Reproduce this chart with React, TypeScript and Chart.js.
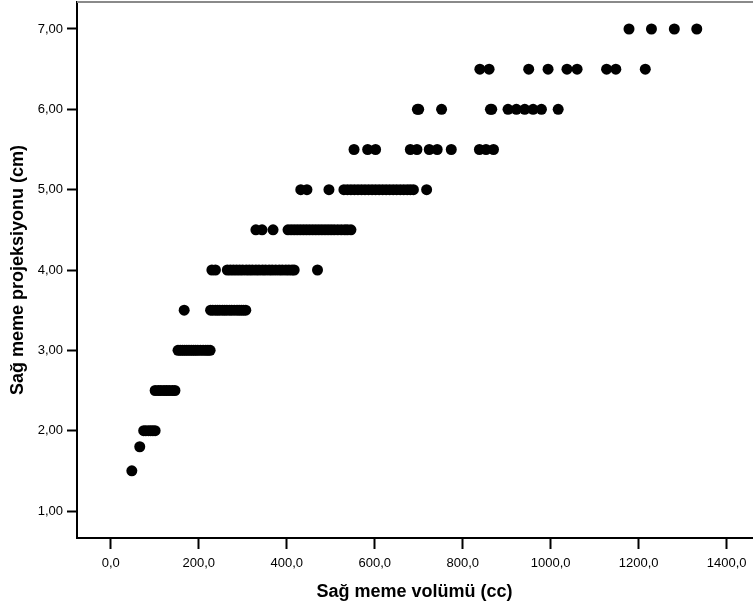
import React, { useEffect, useRef } from "react";
import { Chart, registerables } from "chart.js";

Chart.register(...registerables);

// Sağ meme volümü (cc) values grouped by Sağ meme projeksiyonu (cm)
const projectionLevels = [1.5, 1.8, 2.0, 2.5, 3.0, 3.5, 4.0, 4.5, 5.0, 5.5, 6.0, 6.5, 7.0];

const vol150 = [48];
const vol180 = [66];
const vol200 = [75, 80, 86, 91, 96, 101];
const vol250 = [101, 108, 114, 121, 127, 133, 140, 146];
const vol300 = [153, 158, 163, 168, 173, 178, 183, 188, 193, 198, 204, 210, 216, 221, 226];
const vol350 = [167, 227, 232, 238, 243, 248, 254, 259, 264, 270, 275, 281, 287, 292, 297, 302, 307];
const vol400 = [230, 238, 265, 272, 279, 286, 293, 300, 308, 315, 322, 330, 337, 345, 352, 360, 367, 375, 383, 390, 398, 405, 412, 417, 470];
const vol450 = [330, 344, 369, 403, 410, 417, 424, 431, 438, 445, 452, 459, 466, 473, 480, 487, 494, 501, 508, 516, 524, 532, 538, 546];
const vol500 = [432, 446, 496, 530, 538, 546, 554, 562, 570, 578, 586, 594, 602, 610, 618, 626, 634, 642, 650, 658, 666, 674, 681, 688, 718];
const vol550 = [553, 584, 602, 681, 696, 724, 742, 774, 838, 853, 870];
const vol600 = [697, 700, 752, 863, 866, 903, 922, 941, 960, 979, 1017];
const vol650 = [839, 860, 950, 994, 1037, 1060, 1127, 1148, 1215];
const vol700 = [1178, 1229, 1281, 1332];

const volumesByLevel = [vol150, vol180, vol200, vol250, vol300, vol350, vol400, vol450, vol500, vol550, vol600, vol650, vol700];

const xTickValues = [0, 200, 400, 600, 800, 1000, 1200, 1400];
const yTickValues = [1, 2, 3, 4, 5, 6, 7];

const xTitle = "Sağ meme volümü (cc)";
const yTitle = "Sağ meme projeksiyonu (cm)";

const FONT = "'Liberation Sans', Arial, Helvetica, sans-serif";

const topFrame = {
  id: "topFrame",
  afterDraw(chart: any) {
    const { ctx, chartArea: a } = chart;
    ctx.save();
    ctx.strokeStyle = "#8a8a8a";
    ctx.lineWidth = 2;
    ctx.beginPath();
    ctx.moveTo(a.left, a.top);
    ctx.lineTo(a.right + 2, a.top);
    ctx.stroke();
    ctx.restore();
  },
};

export default function App() {
  const ref = useRef<HTMLCanvasElement | null>(null);

  useEffect(() => {
    if (!ref.current) return;
    const points: { x: number; y: number }[] = [];
    projectionLevels.forEach((lvl, i) => {
      volumesByLevel[i].forEach((v) => points.push({ x: v, y: lvl }));
    });

    const chart = new Chart(ref.current, {
      type: "scatter",
      data: {
        datasets: [
          {
            data: points,
            pointRadius: 5.5,
            pointHoverRadius: 5.5,
            pointBackgroundColor: "#000",
            pointBorderWidth: 0,
            pointBorderColor: "#000",
          },
        ],
      },
      options: {
        animation: false,
        responsive: false,
        devicePixelRatio: 1,
        events: [],
        layout: { autoPadding: false, padding: { left: 0, right: 1, top: 2, bottom: 0 } },
        plugins: {
          legend: { display: false },
          tooltip: { enabled: false },
        },
        scales: {
          x: {
            type: "linear",
            position: "bottom",
            min: -76.6,
            max: 1457.5,
            afterBuildTicks: (s: any) => {
              s.ticks = xTickValues.map((v) => ({ value: v }));
            },
            afterFit: (s: any) => {
              s.height = 69;
              s.paddingLeft = 0;
              s.paddingRight = 0;
            },
            ticks: {
              color: "#000",
              font: { family: FONT, size: 13 },
              padding: 7,
              maxRotation: 0,
              autoSkip: false,
              callback: (v: any) => Number(v).toFixed(1).replace(".", ","),
            },
            grid: {
              display: true,
              drawOnChartArea: false,
              drawTicks: true,
              tickLength: 11,
              tickWidth: 2,
              tickColor: "#000",
            },
            border: { display: true, color: "#000", width: 2 },
            title: {
              display: true,
              text: xTitle,
              color: "#000",
              font: { family: FONT, size: 18, weight: "bold", lineHeight: 1.2 },
              padding: { top: 0, bottom: 4 },
            },
          },
          y: {
            type: "linear",
            position: "left",
            min: 0.664,
            max: 7.336,
            afterBuildTicks: (s: any) => {
              s.ticks = yTickValues.map((v) => ({ value: v }));
            },
            afterFit: (s: any) => {
              s.width = 77;
              s.paddingTop = 0;
              s.paddingBottom = 0;
            },
            ticks: {
              color: "#000",
              font: { family: FONT, size: 13 },
              padding: 4,
              autoSkip: false,
              callback: (v: any) => Number(v).toFixed(2).replace(".", ","),
            },
            grid: {
              display: true,
              drawOnChartArea: false,
              drawTicks: true,
              tickLength: 10,
              tickWidth: 2,
              tickColor: "#000",
            },
            border: { display: true, color: "#000", width: 2 },
            title: {
              display: true,
              text: yTitle,
              color: "#000",
              font: { family: FONT, size: 18, weight: "bold", lineHeight: 1.2 },
              padding: { top: 7, bottom: 0 },
            },
          },
        },
      },
      plugins: [topFrame],
    });
    return () => chart.destroy();
  }, []);

  return (
    <div style={{ position: "fixed", left: 0, top: 0, width: 753, height: 607, background: "#fff" }}>
      <canvas ref={ref} width={753} height={607} style={{ display: "block" }} />
    </div>
  );
}
